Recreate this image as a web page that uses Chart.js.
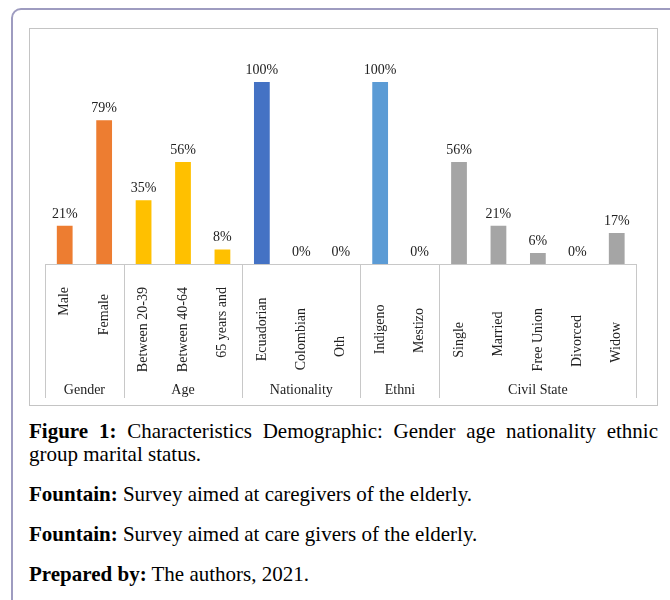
<!DOCTYPE html>
<html>
<head>
<meta charset="utf-8">
<script src="https://cdn.jsdelivr.net/npm/chart.js@4.4.0/dist/chart.umd.min.js"></script>
<style>
body{margin:0;background:#fff;width:670px;height:600px;overflow:hidden;position:relative;font-family:'Liberation Serif','Times New Roman',serif;}
#frame{position:absolute;left:11px;top:8px;width:700px;height:650px;border:2px solid #9e9cc0;border-radius:10px;}
#box{position:absolute;left:29px;top:28px;width:627px;height:376px;border:1px solid #c4c4c4;}
#box canvas{display:block;}
#cap{position:absolute;left:29px;top:420px;width:629px;font-size:21px;line-height:23px;color:#000;}
#cap p{margin:0 0 17px 0;}
#cap p.j{text-align:justify;}
</style>
</head>
<body>
<div id="frame"></div>
<div id="box"><canvas id="chart" width="627" height="376"></canvas></div>
<div id="cap">
<p class="j"><b>Figure 1:</b> Characteristics Demographic: Gender age nationality ethnic group marital status.</p>
<p><b>Fountain:</b> Survey aimed at caregivers of the elderly.</p>
<p><b>Fountain:</b> Survey aimed at care givers of the elderly.</p>
<p><b>Prepared by:</b> The authors, 2021.</p>
</div>
<script>
const categories = ['Male', 'Female', 'Between 20-39', 'Between 40-64', '65 years and',
  'Ecuadorian', 'Colombian', 'Oth', 'Indigeno', 'Mestizo',
  'Single', 'Married', 'Free Union', 'Divorced', 'Widow'];
const values = [21, 79, 35, 56, 8, 100, 0, 0, 100, 0, 56, 21, 6, 0, 17];
const groups = ['Gender', 'Age', 'Nationality', 'Ethni', 'Civil State'];
const groupSizes = [2, 3, 3, 2, 5];

const groupColors = ['#ed7d31', '#ffc000', '#4472c4', '#5b9bd5', '#a5a5a5'];
// distance (px) of each rotated label from the axis, like the original
const labelDrop = [1, 8, 0, 0, 1, 11, 20, 48, 16, 20, 35, 25, 20, 27, 36];

Chart.defaults.font.family = "'Liberation Serif', 'Times New Roman', serif";
Chart.defaults.font.size = 14;
Chart.defaults.color = '#222';

// colours and group centres from the group sizes
var barColors = [];
var groupCenters = [];
var groupEdges = [-0.5];
var start = 0;
groupSizes.forEach(function (n, g) {
  for (var k = 0; k < n; k++) barColors.push(groupColors[g]);
  groupCenters.push(start + (n - 1) / 2);
  start += n;
  groupEdges.push(start - 0.5);
});

var valueLabels = {
  id: 'valueLabels',
  afterDatasetsDraw: function (chart) {
    var ctx = chart.ctx;
    var meta = chart.getDatasetMeta(0);
    ctx.save();
    ctx.font = "14px 'Liberation Serif', serif";
    ctx.fillStyle = '#222';
    ctx.textAlign = 'center';
    ctx.textBaseline = 'alphabetic';
    meta.data.forEach(function (bar, i) {
      ctx.fillText(values[i] + '%', bar.x, bar.y - 8);
    });
    ctx.restore();
  }
};

// vertical lines between the groups, down through the label rows
var groupLines = {
  id: 'groupLines',
  afterDraw: function (chart) {
    var sx = chart.scales.x;
    var bottom = chart.scales.x2.bottom;
    var ctx = chart.ctx;
    ctx.save();
    ctx.strokeStyle = '#c8c8c8';
    ctx.lineWidth = 1;
    groupEdges.forEach(function (e) {
      var px = Math.round(sx.getPixelForValue(e)) + 0.5;
      ctx.beginPath();
      ctx.moveTo(px, chart.chartArea.bottom);
      ctx.lineTo(px, bottom);
      ctx.stroke();
    });
    ctx.restore();
  }
};

new Chart(document.getElementById('chart'), {
  type: 'bar',
  data: {
    labels: categories,
    datasets: [{
      data: values,
      backgroundColor: barColors,
      barPercentage: 0.4,
      categoryPercentage: 1
    }]
  },
  options: {
    responsive: false,
    animation: false,
    devicePixelRatio: 1,
    layout: {padding: {left: 15, right: 14, top: 53, bottom: 7}},
    plugins: {legend: {display: false}, tooltip: {enabled: false}},
    scales: {
      y: {display: false, min: 0, max: 100},
      x: {
        weight: 0,
        grid: {display: false, drawTicks: false},
        border: {display: true, color: '#c8c8c8'},
        ticks: {
          autoSkip: false, minRotation: 90, maxRotation: 90, padding: 23,
          callback: function (v, i) {
            return categories[i] + ' '.repeat(Math.round(labelDrop[i] / 3.5));
          }
        },
        afterFit: function (s) { s.height = 112; }
      },
      x2: {
        type: 'linear',
        position: 'bottom',
        weight: 1,
        offset: false,
        bounds: 'data',
        min: -0.5,
        max: 14.5,
        grid: {display: false, drawTicks: false, offset: false},
        border: {display: false},
        afterBuildTicks: function (s) {
          s.ticks = groupCenters.map(function (v) { return {value: v}; });
        },
        ticks: {
          autoSkip: false, maxRotation: 0, minRotation: 0, padding: 6,
          callback: function (v, i) { return groups[i]; }
        },
        afterFit: function (s) { s.height = 22; }
      }
    }
  },
  plugins: [valueLabels, groupLines]
});
</script>
</body>
</html>
